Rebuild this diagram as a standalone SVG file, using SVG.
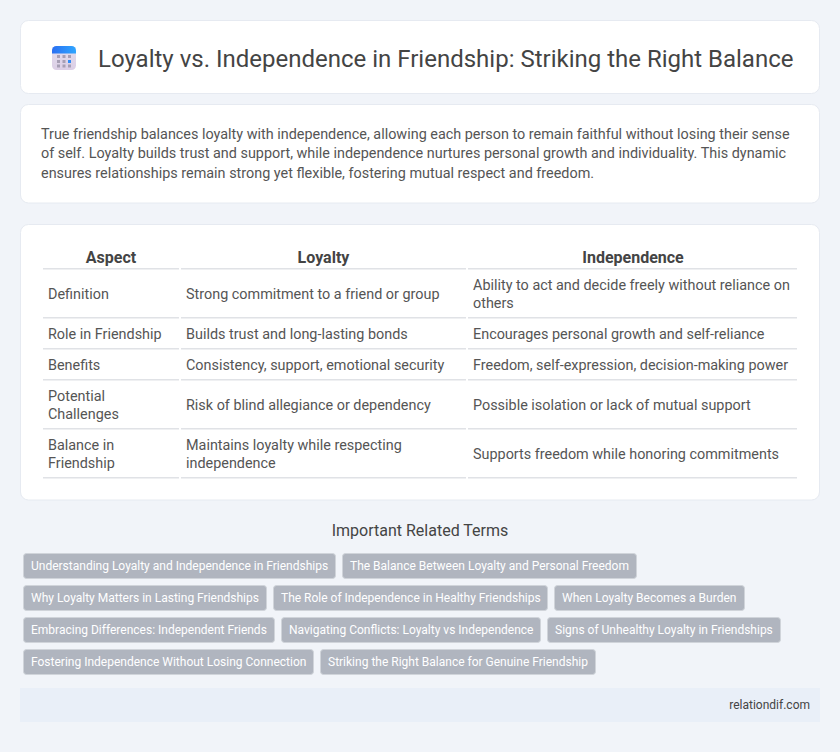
<svg xmlns="http://www.w3.org/2000/svg" width="840" height="752" viewBox="0 0 840 752">
<style>
text{font-family:Roboto,"Liberation Sans",sans-serif}
.card{fill:#fff;stroke:#e6eaf1;stroke-width:1}
.title{font-size:24px;fill:#444}
.p{font-size:14.4px;fill:#555}
.th{font-size:16px;font-weight:700;fill:#444;text-anchor:middle}
.td{font-size:14.4px;fill:#555}
.rule{fill:#e0e2e6}
.h2{font-size:16px;fill:#444;text-anchor:middle}
.tag{fill:#b0b5bf;stroke:#d0d4da;stroke-width:1}
.tagt{font-size:12px;fill:#fff}
.foot{font-size:12px;fill:#444;text-anchor:end}
</style>
<defs>
<linearGradient id="top" x1="0" y1="0" x2="1" y2="0"><stop offset="0" stop-color="#2a6ff2"/><stop offset="1" stop-color="#2fa6ff"/></linearGradient>
<linearGradient id="body" x1="0" y1="0" x2="0" y2="1"><stop offset="0" stop-color="#e3deee"/><stop offset="1" stop-color="#dccfe6"/></linearGradient>
</defs>
<rect width="840" height="752" fill="#f1f4f9"/>
<g id="header">
<rect class="card" x="20.500" y="20.500" width="799" height="73" rx="8"/>
<g id="icon">
<rect x="52" y="46" width="24" height="24" rx="4.500" fill="url(#body)"/>
<path d="M52 53.500v-3a4.500 4.500 0 0 1 4.500-4.500h15a4.500 4.500 0 0 1 4.500 4.500v3z" fill="url(#top)"/>
<g fill="#a79fb5"><rect x="57" y="55" width="3" height="3"/><rect x="62.500" y="55" width="3" height="3"/><rect x="68" y="55" width="3" height="3"/><rect x="57" y="60" width="3" height="3"/><rect x="62.500" y="60" width="3" height="3"/><rect x="57" y="64.500" width="3" height="3"/><rect x="62.500" y="64.500" width="3" height="3"/><rect x="68" y="64.500" width="3" height="3"/></g>
<rect x="68" y="60" width="3" height="3" fill="#2f8bf7"/>
</g>
<text class="title" x="98" y="67">Loyalty vs. Independence in Friendship: Striking the Right Balance</text>
</g>
<g id="intro">
<rect class="card" x="20.500" y="104.500" width="799" height="98.500" rx="8"/>
<text class="p" x="41" y="139">True friendship balances loyalty with independence, allowing each person to remain faithful without losing their sense</text>
<text class="p" x="41" y="158">of self. Loyalty builds trust and support, while independence nurtures personal growth and individuality. This dynamic</text>
<text class="p" x="41" y="178">ensures relationships remain strong yet flexible, fostering mutual respect and freedom.</text>
</g>
<g id="table">
<rect class="card" x="20.500" y="224.500" width="799" height="275.500" rx="8"/>
<text class="th" x="111" y="263">Aspect</text>
<text class="th" x="323.500" y="263">Loyalty</text>
<text class="th" x="633" y="263">Independence</text>
<g id="rules">
<rect class="rule" x="43" y="268" width="136" height="1.500"/><rect class="rule" x="181" y="268" width="285" height="1.500"/><rect class="rule" x="468" y="268" width="329" height="1.500"/>
<rect class="rule" x="43" y="317" width="136" height="1.500"/><rect class="rule" x="181" y="317" width="285" height="1.500"/><rect class="rule" x="468" y="317" width="329" height="1.500"/>
<rect class="rule" x="43" y="348" width="136" height="1.500"/><rect class="rule" x="181" y="348" width="285" height="1.500"/><rect class="rule" x="468" y="348" width="329" height="1.500"/>
<rect class="rule" x="43" y="379" width="136" height="1.500"/><rect class="rule" x="181" y="379" width="285" height="1.500"/><rect class="rule" x="468" y="379" width="329" height="1.500"/>
<rect class="rule" x="43" y="428" width="136" height="1.500"/><rect class="rule" x="181" y="428" width="285" height="1.500"/><rect class="rule" x="468" y="428" width="329" height="1.500"/>
<rect class="rule" x="43" y="477" width="136" height="1.500"/><rect class="rule" x="181" y="477" width="285" height="1.500"/><rect class="rule" x="468" y="477" width="329" height="1.500"/>
</g>
<text class="td" x="48" y="299">Definition</text>
<text class="td" x="186" y="299">Strong commitment to a friend or group</text>
<text class="td" x="473" y="290">Ability to act and decide freely without reliance on</text>
<text class="td" x="473" y="308">others</text>
<text class="td" x="48" y="339">Role in Friendship</text>
<text class="td" x="186" y="339">Builds trust and long-lasting bonds</text>
<text class="td" x="473" y="339">Encourages personal growth and self-reliance</text>
<text class="td" x="48" y="370">Benefits</text>
<text class="td" x="186" y="370">Consistency, support, emotional security</text>
<text class="td" x="473" y="370">Freedom, self-expression, decision-making power</text>
<text class="td" x="48" y="401">Potential</text>
<text class="td" x="48" y="419">Challenges</text>
<text class="td" x="186" y="410">Risk of blind allegiance or dependency</text>
<text class="td" x="473" y="410">Possible isolation or lack of mutual support</text>
<text class="td" x="48" y="450">Balance in</text>
<text class="td" x="48" y="468">Friendship</text>
<text class="td" x="186" y="450">Maintains loyalty while respecting</text>
<text class="td" x="186" y="468">independence</text>
<text class="td" x="473" y="459">Supports freedom while honoring commitments</text>
</g>
<g id="terms">
<text class="h2" x="420" y="536">Important Related Terms</text>
<g id="t1"><rect class="tag" x="23.500" y="553.500" width="312" height="25" rx="3"/><text class="tagt" x="31" y="570">Understanding Loyalty and Independence in Friendships</text></g>
<g id="t2"><rect class="tag" x="342.500" y="553.500" width="294" height="25" rx="3"/><text class="tagt" x="350" y="570">The Balance Between Loyalty and Personal Freedom</text></g>
<g id="t3"><rect class="tag" x="23.500" y="585.500" width="243" height="25" rx="3"/><text class="tagt" x="31" y="602">Why Loyalty Matters in Lasting Friendships</text></g>
<g id="t4"><rect class="tag" x="273.500" y="585.500" width="274" height="25" rx="3"/><text class="tagt" x="281" y="602">The Role of Independence in Healthy Friendships</text></g>
<g id="t5"><rect class="tag" x="554.500" y="585.500" width="190" height="25" rx="3"/><text class="tagt" x="562" y="602">When Loyalty Becomes a Burden</text></g>
<g id="t6"><rect class="tag" x="23.500" y="617.500" width="251" height="25" rx="3"/><text class="tagt" x="31" y="634">Embracing Differences: Independent Friends</text></g>
<g id="t7"><rect class="tag" x="281.500" y="617.500" width="259" height="25" rx="3"/><text class="tagt" x="289" y="634">Navigating Conflicts: Loyalty vs Independence</text></g>
<g id="t8"><rect class="tag" x="547.500" y="617.500" width="233" height="25" rx="3"/><text class="tagt" x="555" y="634">Signs of Unhealthy Loyalty in Friendships</text></g>
<g id="t9"><rect class="tag" x="23.500" y="649.500" width="290" height="25" rx="3"/><text class="tagt" x="31" y="666">Fostering Independence Without Losing Connection</text></g>
<g id="t10"><rect class="tag" x="320.500" y="649.500" width="275" height="25" rx="3"/><text class="tagt" x="328" y="666">Striking the Right Balance for Genuine Friendship</text></g>
</g>
<g id="footer">
<rect x="20" y="688" width="800" height="34" fill="#e9eff8"/>
<text class="foot" x="810" y="709">relationdif.com</text>
</g>
</svg>
